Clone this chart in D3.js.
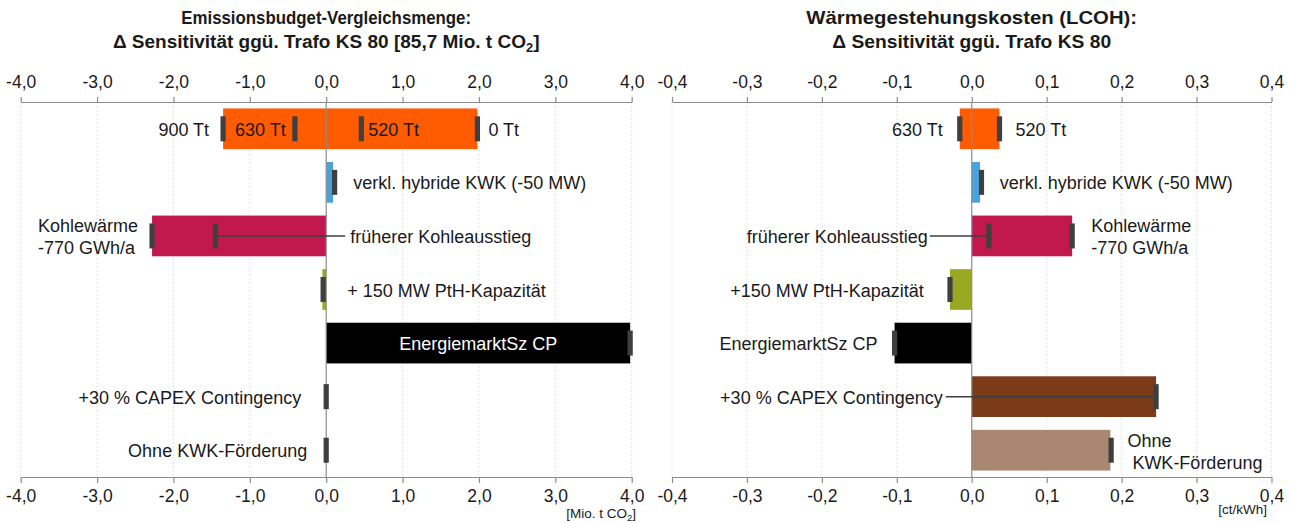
<!DOCTYPE html>
<html><head><meta charset="utf-8">
<script src="https://cdn.jsdelivr.net/npm/d3@7/dist/d3.min.js"></script>
<style>
body{margin:0;background:#fff;}
svg text{font-family:"Liberation Sans",Arial,sans-serif;fill:#1a1a1a;}
</style></head><body>
<svg id="c" width="1291" height="523"></svg>
<script>
// ---- data ----
const rows = ["Emissionsbudget","verkl. hybride KWK","früherer Kohleausstieg","PtH-Kapazität","EnergiemarktSz CP","CAPEX Contingency","Ohne KWK-Förderung"];
const rowColors = ["#FF5B00","#47A3DE","#C0184F","#9BA823","#000000","#7B3B19","#AA8770"];
const ticksEmis = [-4,-3,-2,-1,0,1,2,3,4];
const ticksLcoh = [-0.4,-0.3,-0.2,-0.1,0,0.1,0.2,0.3,0.4];
const emisLow  = [-1.35, 0, -2.28, -0.05, 0, 0, 0];
const emisHigh = [ 1.98, 0.09, 0, 0, 3.98, 0, 0];
const emisMarkers = [[-1.35,-0.41,0.46,1.98],[0.11],[-2.28,-1.45],[-0.04],[3.98],[0.0],[0.0]];
const lcohLow  = [-0.016, 0, 0, -0.029, -0.103, 0, 0];
const lcohHigh = [ 0.037, 0.011, 0.134, 0, 0, 0.246, 0.185];
const lcohMarkers = [[-0.016,0.037],[0.013],[0.134,0.023],[-0.029],[-0.103],[0.246],[0.186]];

const svg = d3.select("#c");
const fmt = v => d3.format(".1f")(v).replace(".",",").replace("−","-");
const y = d3.scaleBand().domain(rows).range([102,477]).paddingInner(0.24).paddingOuter(0.12);
const FS = 18;
const TFS = 17.5;

function fitText(sel, cx, target){
  const w = sel.node().getBBox().width;
  const s = target / w;
  sel.attr("transform", `translate(${cx},0) scale(${s},1) translate(${-cx},0)`);
}

function panel(x, ticks, low, high, title1, title2, w1, w2, unitText, unitAnchorX, unitY){
  const g = svg.append("g");
  const cx = (x.range()[0]+x.range()[1])/2;
  const t1 = g.append("text").attr("x",cx).attr("y",24).attr("text-anchor","middle")
    .style("font-weight","bold").style("font-size","18.5px").text(title1);
  fitText(t1, cx, w1);
  const t2 = g.append("text").attr("x",cx).attr("y",48).attr("text-anchor","middle")
    .style("font-weight","bold").style("font-size","18.5px");
  title2(t2);
  fitText(t2, cx, w2);
  // grid
  g.selectAll(".grid").data(ticks.filter(d=>d!==0)).join("line")
    .attr("x1",d=>x(d)).attr("x2",d=>x(d)).attr("y1",102).attr("y2",477)
    .attr("stroke","#d9d9d9").attr("stroke-dasharray","1.5,2.5").attr("stroke-width",1);
  // axes
  const top = g.append("g").attr("transform","translate(0,102)")
    .call(d3.axisTop(x).tickValues(ticks).tickFormat(fmt).tickSize(5).tickPadding(9).tickSizeOuter(0));
  const bot = g.append("g").attr("transform","translate(0,477)")
    .call(d3.axisBottom(x).tickValues(ticks).tickFormat(fmt).tickSize(6).tickPadding(7).tickSizeOuter(0));
  [top,bot].forEach(a=>{
    a.select(".domain").attr("stroke","#8c8c8c").attr("stroke-width",1.2);
    a.selectAll(".tick line").attr("stroke","#8c8c8c").attr("stroke-width",1.2);
    a.selectAll(".tick text").style("font-size",TFS+"px").style("font-family","Liberation Sans, Arial, sans-serif").attr("fill","#1a1a1a");
  });
  // bars
  g.selectAll(".bar").data(rows).join("rect")
    .attr("x",(d,i)=>x(low[i])).attr("width",(d,i)=>Math.max(0,x(high[i])-x(low[i])))
    .attr("y",d=>y(d)).attr("height",y.bandwidth())
    .attr("fill",(d,i)=>rowColors[i]);
  // zero line
  g.append("line").attr("x1",x(0)).attr("x2",x(0)).attr("y1",102).attr("y2",477)
    .attr("stroke","#8c8c8c").attr("stroke-width",1.2);
  // unit label
  const u = g.append("text").attr("x",unitAnchorX).attr("y",unitY).attr("text-anchor","end").style("font-size","13.5px");
  unitText(u);
  return g;
}

function drawMarkers(g, x, markers){
  const flat = [];
  markers.forEach((arr,i)=>arr.forEach(v=>flat.push({row:rows[i],v})));
  g.selectAll(".mk").data(flat).join("rect")
    .attr("x",d=>x(d.v)-2.6).attr("width",5.2)
    .attr("y",d=>y(d.row)+y.bandwidth()/2-12.5).attr("height",25)
    .attr("fill","#3f3f3f");
}

function label(g, xpos, ypos, txt, anchor, color){
  return g.append("text").attr("x",xpos).attr("y",ypos).attr("text-anchor",anchor||"start")
    .attr("dominant-baseline","central").style("font-size",FS+"px").style("fill",color||"#1a1a1a").text(txt);
}
function leader(g, x1, x2, yy){
  g.append("line").attr("x1",x1).attr("x2",x2).attr("y1",yy).attr("y2",yy).attr("stroke","#3f3f3f").attr("stroke-width",1.5);
}
const cy = i => y(rows[i]) + y.bandwidth()/2 + 1;

// ---------- left panel ----------
const xL = d3.scaleLinear().domain([-4,4]).range([20.7,631.7]);
const gL = panel(xL, ticksEmis, emisLow, emisHigh,
  "Emissionsbudget-Vergleichsmenge:",
  (ts)=>{ ts.append("tspan").text("Δ Sensitivität ggü. Trafo KS 80 [85,7 Mio. t CO");
          ts.append("tspan").attr("dy",4).style("font-size","12.5px").text("2");
          ts.append("tspan").attr("dy",-4).text("]"); },
  290, 427,
  (u)=>{ u.text("[Mio. t CO"); u.append("tspan").attr("dy",3).style("font-size","9.5px").text("2"); u.append("tspan").attr("dy",-3).text("]"); },
  636, 518);
leader(gL, xL(emisMarkers[2][1]), xL(0)+19, cy(2)-1);
drawMarkers(gL, xL, emisMarkers);
label(gL, xL(emisMarkers[0][0])-14, cy(0), "900 Tt", "end");
label(gL, xL(emisMarkers[0][0])+12, cy(0), "630 Tt");
label(gL, xL(emisMarkers[0][2])+7, cy(0), "520 Tt");
label(gL, xL(emisMarkers[0][3])+11, cy(0), "0 Tt");
label(gL, xL(0)+27, cy(1), "verkl. hybride KWK (-50 MW)");
label(gL, xL(0)+24, cy(2), "früherer Kohleausstieg");
label(gL, 38, cy(2)-10.5, "Kohlewärme");
label(gL, 38, cy(2)+11.5, "-770 GWh/a");
label(gL, xL(0)+21, cy(3), "+ 150 MW PtH-Kapazität");
label(gL, (xL(0)+xL(emisHigh[4]))/2, cy(4), "EnergiemarktSz CP", "middle", "#ffffff");
label(gL, xL(0)-25, cy(5), "+30 % CAPEX Contingency", "end");
label(gL, xL(0)-19, cy(6), "Ohne KWK-Förderung", "end");

// ---------- right panel ----------
const xR = d3.scaleLinear().domain([-0.4,0.4]).range([672,1271.5]);
const gR = panel(xR, ticksLcoh, lcohLow, lcohHigh,
  "Wärmegestehungskosten (LCOH):",
  (ts)=>{ ts.text("Δ Sensitivität ggü. Trafo KS 80"); },
  331, 279,
  (u)=>{ u.text("[ct/kWh]"); },
  1267, 514);
leader(gR, xR(0)-42, xR(lcohMarkers[2][1]), cy(2)-1);
leader(gR, xR(0)-26, xR(lcohMarkers[5][0]), cy(5)-1);
drawMarkers(gR, xR, lcohMarkers);
label(gR, xR(lcohMarkers[0][0])-17, cy(0), "630 Tt", "end");
label(gR, xR(lcohMarkers[0][1])+16, cy(0), "520 Tt");
label(gR, xR(0)+28, cy(1), "verkl. hybride KWK (-50 MW)");
label(gR, xR(0)-44, cy(2), "früherer Kohleausstieg", "end");
label(gR, xR(lcohHigh[2])+19, cy(2)-10.5, "Kohlewärme");
label(gR, xR(lcohHigh[2])+19, cy(2)+11.5, "-770 GWh/a");
label(gR, xR(0)-48, cy(3), "+150 MW PtH-Kapazität", "end");
label(gR, xR(lcohLow[4])-17, cy(4), "EnergiemarktSz CP", "end");
label(gR, xR(0)-29, cy(5), "+30 % CAPEX Contingency", "end");
label(gR, xR(lcohHigh[6])+17, cy(6)-10.5, "Ohne");
label(gR, xR(lcohHigh[6])+22, cy(6)+11.5, "KWK-Förderung");
</script></body></html>
